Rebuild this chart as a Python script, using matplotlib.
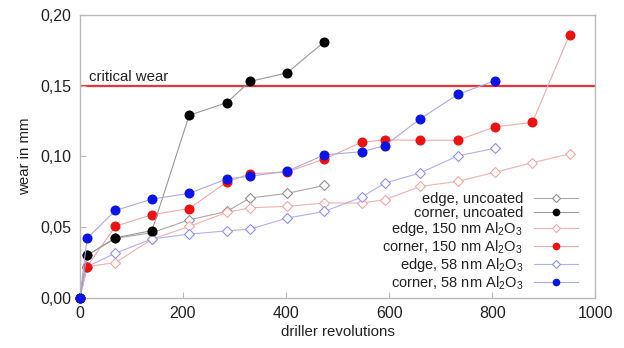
import matplotlib
matplotlib.use("Agg")
import matplotlib.pyplot as plt

plt.rcParams['font.family'] = ['Liberation Sans', 'DejaVu Sans']
plt.rcParams['mathtext.fontset'] = 'custom'
plt.rcParams['mathtext.rm'] = 'Liberation Sans'
plt.rcParams['mathtext.it'] = 'Liberation Sans:italic'
plt.rcParams['mathtext.bf'] = 'Liberation Sans:bold'

# Data
x_edge_unc = [0, 14, 69, 140, 212, 285, 330, 402, 474]
y_edge_unc = [0, 0.030, 0.042, 0.046, 0.0551, 0.061, 0.0705, 0.0738, 0.0794]

x_corner_unc = [0, 14, 69, 140, 212, 285, 330, 402, 474]
y_corner_unc = [0, 0.030, 0.0424, 0.0475, 0.129, 0.138, 0.153, 0.159, 0.181]

x_150 = [0, 14, 69, 140, 212, 285, 330, 402, 474, 547, 592, 660, 733, 805, 878, 950]
y_edge_150 = [0, 0.022, 0.0248, 0.0414, 0.0504, 0.0603, 0.0636, 0.0646, 0.067, 0.067,
              0.0693, 0.0787, 0.0823, 0.0887, 0.0955, 0.1017]
y_corner_150 = [0, 0.022, 0.0506, 0.0587, 0.0631, 0.0818, 0.0877, 0.089, 0.098, 0.110,
                0.1116, 0.1114, 0.1114, 0.1208, 0.124, 0.186]

x_58 = [0, 14, 69, 140, 212, 285, 330, 402, 474, 547, 592, 660, 733, 805]
y_edge_58 = [0, 0.022, 0.0315, 0.0416, 0.045, 0.0473, 0.0485, 0.0563, 0.061, 0.0712,
             0.0811, 0.0882, 0.1003, 0.1057]
y_corner_58 = [0, 0.042, 0.0617, 0.0698, 0.0738, 0.084, 0.086, 0.0894, 0.101, 0.1033,
               0.1076, 0.1265, 0.1438, 0.1535]

critical_wear = 0.15

x_ticks = [0, 200, 400, 600, 800, 1000]
x_tick_labels = ['0', '200', '400', '600', '800', '1000']
y_ticks = [0.00, 0.05, 0.10, 0.15, 0.20]
y_tick_labels = ['0,00', '0,05', '0,10', '0,15', '0,20']

fig = plt.figure(figsize=(6.24, 3.48), dpi=100)
ax = fig.add_axes([0.128, 0.1445, 0.826, 0.8125])

ax.axhline(critical_wear, color='#e8343a', lw=1.6, zorder=1)
ax.text(17, 0.1515, 'critical wear', fontsize=10.8, color='#222222', va='bottom', ha='left')

lw = 0.8
ax.plot(x_edge_unc, y_edge_unc, color='#a8a8a8', lw=lw, marker='D', ms=5,
        mfc='white', mec='#909090', mew=0.8, label='edge, uncoated', zorder=3, clip_on=False)
ax.plot(x_corner_unc, y_corner_unc, color='#999999', lw=lw, marker='o', ms=6.2,
        mfc='black', mec='black', label='corner, uncoated', zorder=5, clip_on=False)
ax.plot(x_150, y_edge_150, color='#f2b0b0', lw=lw, marker='D', ms=5,
        mfc='white', mec='#f0a8a8', mew=0.8, label='edge, 150 nm Al$_2$O$_3$', zorder=3, clip_on=False)
ax.plot(x_150, y_corner_150, color='#eeaaaa', lw=lw, marker='o', ms=6.2,
        mfc='#ee1111', mec='#ee1111', label='corner, 150 nm Al$_2$O$_3$', zorder=4, clip_on=False)
ax.plot(x_58, y_edge_58, color='#b0b0ee', lw=lw, marker='D', ms=5,
        mfc='white', mec='#9090ee', mew=0.8, label='edge, 58 nm Al$_2$O$_3$', zorder=3, clip_on=False)
ax.plot(x_58, y_corner_58, color='#aaaadd', lw=lw, marker='o', ms=6.2,
        mfc='#0a14e6', mec='#0a14e6', label='corner, 58 nm Al$_2$O$_3$', zorder=6, clip_on=False)

ax.set_xlim(0, 1000)
ax.set_ylim(0, 0.20)
ax.set_xticks(x_ticks)
ax.set_xticklabels(x_tick_labels)
ax.set_yticks(y_ticks)
ax.set_yticklabels(y_tick_labels)
ax.tick_params(direction='in', length=4, color='#bbbbbb', labelsize=11.5,
               labelcolor='#222222', pad=6)
for s in ax.spines.values():
    s.set_color('#bbbbbb')
    s.set_linewidth(1.0)

ax.set_xlabel('driller revolutions', fontsize=10.8, color='#222222', labelpad=3)
ax.set_ylabel('wear in mm', fontsize=10.8, color='#222222', labelpad=6)

leg = ax.legend(loc='lower right', frameon=False, markerfirst=False, fontsize=10.5,
                handlelength=3.0, handletextpad=0.75, labelspacing=0.02,
                borderaxespad=0.0, bbox_to_anchor=(0.977, 0.0))
for t in leg.get_texts():
    t.set_color('#222222')
for h in leg.get_lines():
    h.set_markersize(4.5)

fig.savefig('out.png', dpi=100)
